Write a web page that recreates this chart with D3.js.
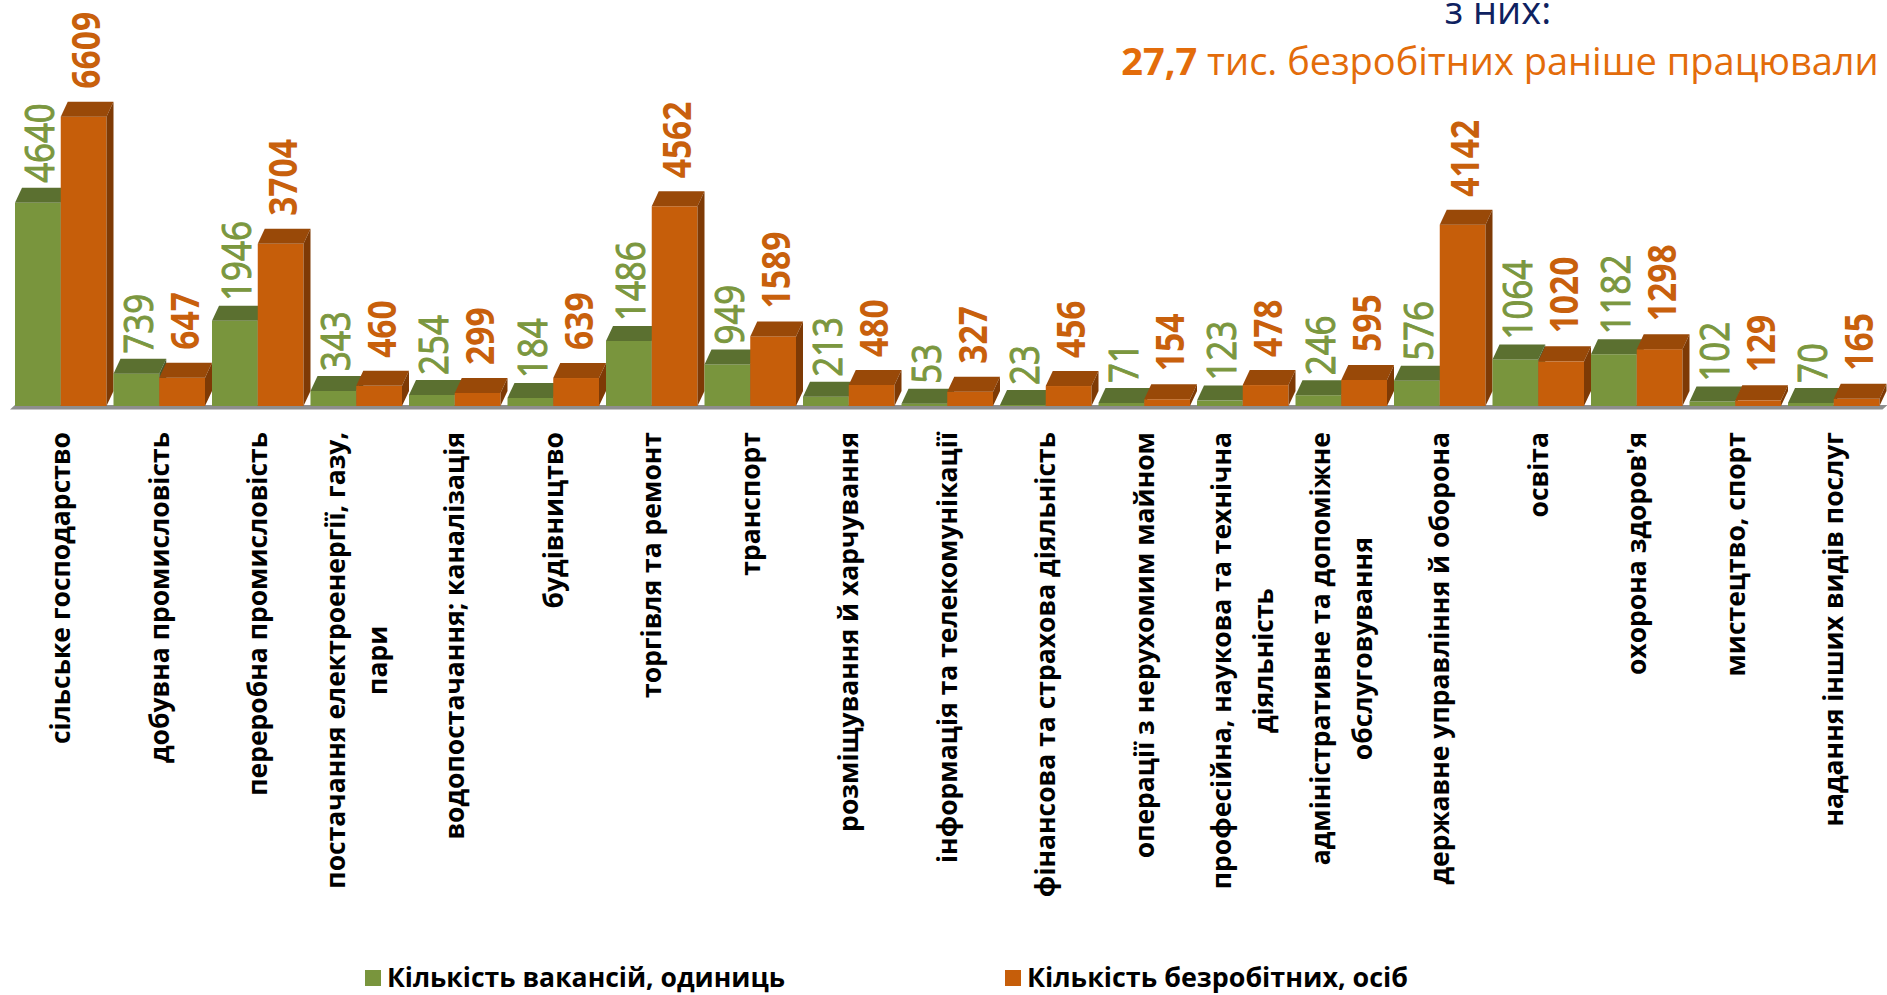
<!DOCTYPE html>
<html lang="uk">
<head>
<meta charset="utf-8">
<script src="https://cdn.jsdelivr.net/npm/d3@7"></script>
<style>
  html, body { margin: 0; padding: 0; background: #fff; }
  svg { display: block; }
  .val { font-family: "Open Sans", sans-serif; font-size: 40px; }
  .cat { font-family: "Open Sans", sans-serif; font-size: 26.5px; font-weight: 700; fill: #000; }
  .legend text { font-family: "Open Sans", sans-serif; font-size: 27px; font-weight: 700; fill: #000; }
  .title { font-family: "Open Sans", sans-serif; font-size: 38px; }
</style>
</head>
<body>
<svg id="chart" width="1887" height="995"></svg>
<script>
// ── Data ─────────────────────────────────────────────────────────────────────
const categories = [
  ["сільське господарство"],
  ["добувна промисловість"],
  ["переробна промисловість"],
  ["постачання електроенергії, газу,", "пари"],
  ["водопостачання; каналізація"],
  ["будівництво"],
  ["торгівля та ремонт"],
  ["транспорт"],
  ["розміщування й харчування"],
  ["інформація та телекомунікації"],
  ["фінансова та страхова діяльність"],
  ["операції з нерухомим майном"],
  ["професійна, наукова та технічна", "діяльність"],
  ["адміністративне та допоміжне", "обслуговування"],
  ["державне управління й оборона"],
  ["освіта"],
  ["охорона здоров'я"],
  ["мистецтво, спорт"],
  ["надання інших видів послуг"]
];
const vacancies  = [4640, 739, 1946, 343, 254, 184, 1486, 949, 213, 53, 23, 71, 123, 246, 576, 1064, 1182, 102, 70];
const unemployed = [6609, 647, 3704, 460, 299, 639, 4562, 1589, 480, 327, 456, 154, 478, 595, 4142, 1020, 1298, 129, 165];
const seriesNames = ["Кількість вакансій, одиниць", "Кількість безробітних, осіб"];
const titleLine1 = "з них:";
const titleBold = "27,7";
const titleRest = " тис. безробітних раніше працювали";

// ── Setup ────────────────────────────────────────────────────────────────────
const svg = d3.select('#chart');
const base = 406;          // floor of the bars
const depth = { dx: 7, dy: 15 };

const palette = [
  { front: '#79953D', top: '#5B7030', side: '#48592A', label: '#7B973F', weight: 400, squeeze: 0.87, stroke: 1 },
  { front: '#C65E0A', top: '#994908', side: '#7E3A05', label: '#C8600C', weight: 700, squeeze: 0.84, stroke: 0 }
];

const rows = categories.map((c, i) => ({ idx: i, lines: c, values: [vacancies[i], unemployed[i]] }));

const x = d3.scaleBand()
  .domain(d3.range(rows.length))
  .range([15, 15 + rows.length * 98.5])
  .paddingInner(0).paddingOuter(0);

const xs = d3.scaleBand()
  .domain([0, 1])
  .range([0, x.bandwidth() - depth.dx]);

const y = d3.scaleLinear().domain([0, 9000]).range([base, 12]);

// ── Floor ────────────────────────────────────────────────────────────────────
svg.append('path')
  .attr('d', `M10,${base + 3.5} L15,${base - 1} L${x.range()[1] + 1},${base - 1} L${x.range()[1] - 4},${base + 3.5} Z`)
  .attr('fill', '#8E8E8E');

// ── Bars ─────────────────────────────────────────────────────────────────────
const groups = svg.append('g').selectAll('g.grp')
  .data(rows).join('g').attr('class', 'grp');

groups.each(function(r) {
  const g = d3.select(this);
  r.values.forEach((v, s) => {
    const x0 = x(r.idx) + xs(s), x1 = x0 + xs.bandwidth();
    const yt = y(v);
    const c = palette[s];
    const { dx, dy } = depth;
    g.append('rect')
      .attr('x', x0).attr('y', yt)
      .attr('width', x1 - x0).attr('height', base - yt)
      .attr('fill', c.front);
    g.append('path')
      .attr('d', `M${x0},${yt} L${x0 + dx},${yt - dy} L${x1 + dx},${yt - dy} L${x1},${yt} Z`)
      .attr('fill', c.top);
    g.append('path')
      .attr('d', `M${x1},${yt} L${x1 + dx},${yt - dy} L${x1 + dx},${base - dy} L${x1},${base} Z`)
      .attr('fill', c.side);
  });
});

// ── Value labels ─────────────────────────────────────────────────────────────
const gaps = [5, 13];
const labelData = rows.flatMap(r => r.values.map((v, s) => ({ r, v, s })));
svg.append('g').selectAll('text.val')
  .data(labelData).join('text')
  .attr('class', 'val')
  .attr('fill', d => palette[d.s].label)
  .attr('stroke', d => palette[d.s].label)
  .attr('stroke-width', d => palette[d.s].stroke)
  .attr('font-weight', d => palette[d.s].weight)
  .attr('transform', d => {
    const cx = x(d.r.idx) + xs(d.s) + xs.bandwidth() / 2 + 2;
    const cy = y(d.v) - depth.dy - gaps[d.s];
    return `translate(${cx},${cy}) rotate(-90) scale(${palette[d.s].squeeze},1)`;
  })
  .attr('dy', '0.36em')
  .text(d => d.v);

// ── Category labels ──────────────────────────────────────────────────────────
const catTop = 432, lineH = 42;
const cats = svg.append('g').selectAll('text.cat')
  .data(rows).join('text')
  .attr('class', 'cat')
  .attr('text-anchor', 'middle');

cats.each(function(r) {
  const t = d3.select(this);
  const n = r.lines.length;
  r.lines.forEach((ln, i) => {
    t.append('tspan')
      .attr('x', 0)
      .attr('y', (i - (n - 1) / 2) * lineH)
      .attr('dy', '0.35em')
      .text(ln);
  });
  let maxL = 0;
  t.selectAll('tspan').each(function() { maxL = Math.max(maxL, this.getComputedTextLength()); });
  const cx = x(r.idx) + xs.bandwidth();
  t.attr('transform', `translate(${cx},${catTop + maxL / 2}) rotate(-90)`);
});

// ── Title ────────────────────────────────────────────────────────────────────
svg.append('text')
  .attr('class', 'title')
  .attr('x', 1498).attr('y', 24)
  .attr('text-anchor', 'middle')
  .attr('fill', '#0E2160')
  .text(titleLine1);

const t2 = svg.append('text')
  .attr('class', 'title')
  .attr('x', 1500).attr('y', 75)
  .attr('text-anchor', 'middle')
  .attr('fill', '#E36C0A');
t2.append('tspan').attr('font-weight', 700).text(titleBold);
t2.append('tspan').text(titleRest);

// ── Legend ───────────────────────────────────────────────────────────────────
const legendX = [365, 1005];
const legendW = [398, 381];
const legend = svg.append('g').attr('class', 'legend')
  .selectAll('g').data(seriesNames).join('g')
  .attr('transform', (d, i) => `translate(${legendX[i]},970)`);
legend.append('rect')
  .attr('width', 16).attr('height', 16)
  .attr('fill', (d, i) => palette[i].front);
legend.append('text')
  .attr('x', 22).attr('y', 17)
  .attr('textLength', (d, i) => legendW[i])
  .attr('lengthAdjust', 'spacingAndGlyphs')
  .text(d => d);
</script>
</body>
</html>
